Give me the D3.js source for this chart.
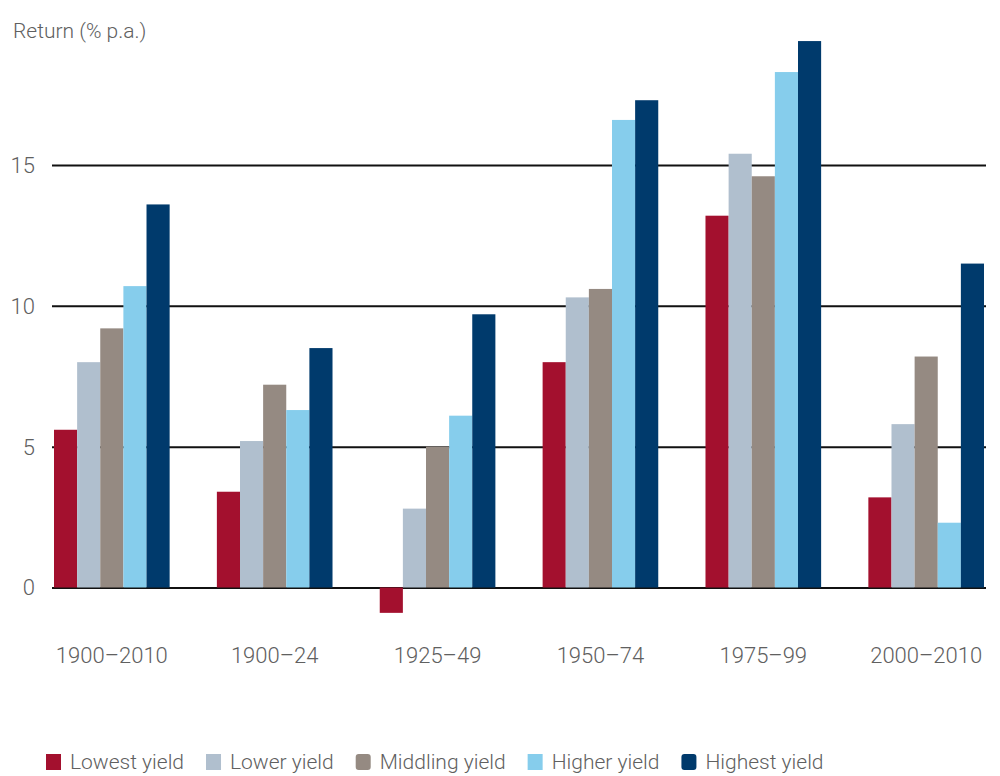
<!DOCTYPE html>
<html>
<head>
<meta charset="utf-8">
<script src="https://cdn.jsdelivr.net/npm/d3@7"></script>
<style>
  html, body { margin: 0; padding: 0; background: #fff; }
  svg text { font-family: Roboto, "Liberation Sans", sans-serif; font-weight: 300; fill: #606060; }
</style>
</head>
<body>
<svg id="chart" width="1000" height="776"></svg>
<script>
// Periods and yield-sorted portfolio returns (% p.a.)
const periods = ["1900–2010", "1900–24", "1925–49", "1950–74", "1975–99", "2000–2010"];
const seriesNames = ["Lowest yield", "Lower yield", "Middling yield", "Higher yield", "Highest yield"];
const lowestYield   = [5.6, 3.4, -0.9, 8.0, 13.2, 3.2];
const lowerYield    = [8.0, 5.2, 2.8, 10.3, 15.4, 5.8];
const middlingYield = [9.2, 7.2, 5.0, 10.6, 14.6, 8.2];
const higherYield   = [10.7, 6.3, 6.1, 16.6, 18.3, 2.3];
const highestYield  = [13.6, 8.5, 9.7, 17.3, 19.4, 11.5];
const yTicks = [0, 5, 10, 15];
const seriesColors = ["#a3102e", "#b0bfce", "#958a82", "#86cdec", "#003a6c"];

const seriesValues = [lowestYield, lowerYield, middlingYield, higherYield, highestYield];
const rows = periods.map((p, i) => {
  const r = { period: p };
  seriesNames.forEach((s, j) => { r[s] = seriesValues[j][i]; });
  return r;
});

const svg = d3.select("#chart");

const x0 = d3.scaleBand().domain(periods).range([54, 984]).paddingInner(0.29).paddingOuter(0);
const x1 = d3.scaleBand().domain(seriesNames).range([0, x0.bandwidth()]).padding(0);
const y = d3.scaleLinear().domain([0, 15]).range([587.5, 165]);
const color = d3.scaleOrdinal().domain(seriesNames).range(seriesColors);

// Horizontal gridlines with value labels
const yAxis = d3.axisLeft(y).tickValues(yTicks).tickSize(-(986 - 52)).tickPadding(17).tickFormat(d3.format("d"));
const gy = svg.append("g").attr("transform", "translate(52,0)").call(yAxis);
gy.select(".domain").remove();
gy.selectAll(".tick line").attr("stroke", "#111").attr("stroke-width", 2);
gy.selectAll(".tick text").attr("font-size", 22).attr("fill", "#606060").attr("dy", "0.34em");

// Axis title
svg.append("text").attr("x", 13).attr("y", 38).attr("font-size", 21).text("Return (% p.a.)");

// Bars
const groups = svg.append("g").selectAll("g").data(rows).join("g")
  .attr("transform", d => `translate(${x0(d.period)},0)`);
groups.selectAll("rect")
  .data(d => seriesNames.map(s => ({ key: s, value: d[s] })))
  .join("rect")
  .attr("x", d => x1(d.key))
  .attr("width", x1.bandwidth())
  .attr("y", d => y(Math.max(0, d.value)))
  .attr("height", d => Math.abs(y(d.value) - y(0)))
  .attr("fill", d => color(d.key));

// Period labels
const xAxis = d3.axisBottom(x0).tickSize(0).tickPadding(0);
const gx = svg.append("g").attr("transform", "translate(0,663)").call(xAxis);
gx.select(".domain").remove();
gx.selectAll(".tick text").attr("font-size", 22).attr("fill", "#606060").attr("dy", "0");

// Legend
const legend = svg.append("g").attr("transform", "translate(46,762)");
let lx = 0;
seriesNames.forEach((s, i) => {
  const item = legend.append("g").attr("transform", `translate(${lx},0)`);
  item.append("rect").attr("x", 0).attr("y", -8).attr("width", 15).attr("height", 16)
    .attr("rx", i === 2 || i === 4 ? 3 : 0).attr("fill", color(s));
  const t = item.append("text").attr("x", 24).attr("y", 0).attr("dy", "0.35em")
    .attr("font-size", 21).text(s);
  lx += 24 + t.node().getComputedTextLength() + 22;
});
</script>
</body>
</html>
